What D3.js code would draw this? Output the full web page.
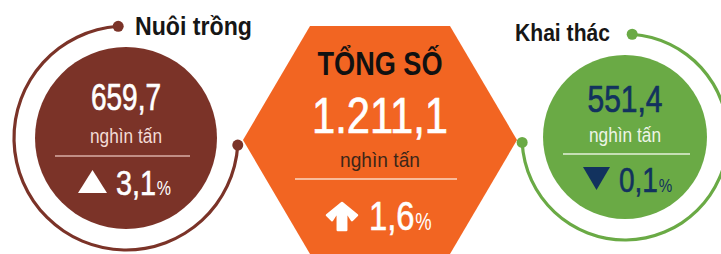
<!DOCTYPE html>
<html>
<head>
<meta charset="UTF-8">
<script src="https://cdn.jsdelivr.net/npm/d3@7/dist/d3.min.js"></script>
<style>
body{
  margin:0;
  background-color:#fff;
}
</style>
</head>
<body>
<script>
var groups = ["Nuôi trồng", "TỔNG SỐ", "Khai thác"]
var values = [659.7, 1211.1, 551.4]
var changes = [3.1, 1.6, -0.1]
var unit = "nghìn tấn"

var width = 721
var height = 254

var vn = d3.formatLocale({decimal: ",", thousands: ".", grouping: [3], currency: ["", ""]})
var fmtValue = vn.format(",.1f")
var fmtChange = vn.format(".1f")

var deg = Math.PI / 180

// one layout per panel (left circle, centre hexagon, right circle)
var layout = [
  {shape: "circle", cx: 126, cy: 138, r: 91, ringR: 112, a0: 93.6, a1: 356, fill: "#7b3328",
   label: {x: 135, y: 35, size: 25, w: 117},
   value: {y: 110, size: 37, w: 70, fill: "#fff"},
   unit: {y: 143, size: 20, w: 72, fill: "#f3dcd6"},
   rule: {y: 156, x0: 55, x1: 190, stroke: "#d9aea4"},
   change: {x: 116, y: 195, size: 36, fill: "#fff", mark: "up", mx: 78, mw: 29, my: 170, mh: 23}},
  {shape: "hex", cx: 380, top: 26, mid: 140, bottom: 254, halfTop: 70, halfMid: 137, fill: "#f26522",
   label: {y: 75, size: 33, w: 125, fill: "#111"},
   value: {y: 133, size: 50, w: 136, fill: "#fff"},
   unit: {y: 167, size: 21, w: 80, fill: "#3d2618"},
   rule: {y: 179, x0: 295, x1: 457, stroke: "#fbd9c4"},
   change: {x: 369, y: 230, size: 41, fill: "#fff", mark: "arrow", mx: 327, mw: 30, my: 203, mh: 27}},
  {shape: "circle", cx: 625, cy: 137, r: 82, ringR: 103, a0: 4, a1: 267, fill: "#6aaa45",
   label: {x: 515, y: 41, size: 24, w: 95},
   value: {y: 112, size: 37, w: 75, fill: "#12325e"},
   unit: {y: 142, size: 20, w: 72, fill: "#eef5e8"},
   rule: {y: 154, x0: 563, x1: 690, stroke: "#e4f0da"},
   change: {x: 619, y: 192, size: 35, fill: "#12325e", mark: "down", mx: 583, mw: 27, my: 167, mh: 23}}
]

var narrow = "'Liberation Sans Narrow', 'Liberation Sans', Arial, sans-serif"
var squeeze = 0.8   // horizontal squeeze for the condensed look of the change figures

var svg = d3.select("body")
    .append("svg")
    .attr("width", width)
    .attr("height", height)

groups.forEach(function(name, i){
  var L = layout[i]
  var g = svg.append("g")

  if (L.shape == "circle") {
    // outer ring with a dot at each end
    var ring = d3.arc()
      .innerRadius(L.ringR - 1.6)
      .outerRadius(L.ringR + 1.6)
      .startAngle(L.a0 * deg)
      .endAngle(L.a1 * deg)
    g.append("path")
      .attr("transform", "translate(" + L.cx + "," + L.cy + ")")
      .attr("d", ring())
      .attr("fill", L.fill)

    g.selectAll(".dot")
      .data([L.a0, L.a1])
      .enter().append("circle")
      .attr("cx", a => L.cx + L.ringR * Math.sin(a * deg))
      .attr("cy", a => L.cy - L.ringR * Math.cos(a * deg))
      .attr("r", 5.5)
      .attr("fill", L.fill)

    g.append("circle")
      .attr("cx", L.cx)
      .attr("cy", L.cy)
      .attr("r", L.r)
      .attr("fill", L.fill)

    g.append("text")
      .attr("x", L.label.x)
      .attr("y", L.label.y)
      .attr("font-family", narrow)
      .attr("font-weight", "bold")
      .attr("font-size", L.label.size)
      .attr("fill", "#161616")
      .attr("textLength", L.label.w)
      .attr("lengthAdjust", "spacingAndGlyphs")
      .text(name)
  } else {
    var hex = [
      [L.cx - L.halfTop, L.top], [L.cx + L.halfTop, L.top], [L.cx + L.halfMid, L.mid],
      [L.cx + L.halfTop, L.bottom], [L.cx - L.halfTop, L.bottom], [L.cx - L.halfMid, L.mid]
    ]
    g.append("path")
      .attr("d", d3.line()(hex) + "Z")
      .attr("fill", L.fill)

    g.append("text")
      .attr("x", L.cx)
      .attr("y", L.label.y)
      .attr("text-anchor", "middle")
      .attr("font-family", narrow)
      .attr("font-weight", "bold")
      .attr("font-size", L.label.size)
      .attr("fill", L.label.fill)
      .attr("textLength", L.label.w)
      .attr("lengthAdjust", "spacingAndGlyphs")
      .text(name)
  }

  var cx = L.cx

  g.append("text")
    .attr("x", cx)
    .attr("y", L.value.y)
    .attr("text-anchor", "middle")
    .attr("font-family", narrow)
    .attr("font-size", L.value.size)
    .attr("fill", L.value.fill)
    .attr("stroke", L.value.fill)
    .attr("stroke-width", 0.7)
    .attr("textLength", L.value.w)
    .attr("lengthAdjust", "spacingAndGlyphs")
    .text(fmtValue(values[i]))

  g.append("text")
    .attr("x", cx)
    .attr("y", L.unit.y)
    .attr("text-anchor", "middle")
    .attr("font-family", narrow)
    .attr("font-size", L.unit.size)
    .attr("fill", L.unit.fill)
    .attr("textLength", L.unit.w)
    .attr("lengthAdjust", "spacingAndGlyphs")
    .text(unit)

  g.append("line")
    .attr("x1", L.rule.x0)
    .attr("x2", L.rule.x1)
    .attr("y1", L.rule.y)
    .attr("y2", L.rule.y)
    .attr("stroke", L.rule.stroke)
    .attr("stroke-width", 1.6)

  // change marker
  var C = L.change
  var mx = C.mx, my = C.my, mw = C.mw, mh = C.mh
  var mark
  if (C.mark == "up") {
    mark = d3.line()([[mx, my + mh], [mx + mw / 2, my], [mx + mw, my + mh]]) + "Z"
  } else if (C.mark == "down") {
    mark = d3.line()([[mx, my], [mx + mw, my], [mx + mw / 2, my + mh]]) + "Z"
  } else {
    var sw = mw * 0.28
    mark = d3.line()([
      [mx + mw / 2, my], [mx + mw, my + mh * 0.45], [mx + mw - sw * 0.6, my + mh * 0.45 + sw * 0.6],
      [mx + mw / 2 + sw / 2, my + mh * 0.3], [mx + mw / 2 + sw / 2, my + mh],
      [mx + mw / 2 - sw / 2, my + mh], [mx + mw / 2 - sw / 2, my + mh * 0.3],
      [mx + sw * 0.6, my + mh * 0.45 + sw * 0.6], [mx, my + mh * 0.45]
    ]) + "Z"
  }
  g.append("path")
    .attr("d", mark)
    .attr("fill", C.fill)
    .attr("stroke", C.fill)
    .attr("stroke-linejoin", "round")
    .attr("stroke-width", C.mark == "arrow" ? 2.5 : 0)

  // number with a smaller "%" after it
  var t = g.append("text")
    .attr("transform", "translate(" + C.x + "," + C.y + ") scale(" + squeeze + ",1)")
    .attr("font-family", narrow)
    .attr("font-size", C.size)
    .attr("fill", C.fill)
  t.append("tspan")
    .attr("stroke", C.fill)
    .attr("stroke-width", 0.6)
    .text(fmtChange(Math.abs(changes[i])))
  t.append("tspan")
    .attr("dx", 1)
    .attr("font-size", Math.round(C.size * 0.55))
    .text("%")
})
</script>
</body>
</html>
